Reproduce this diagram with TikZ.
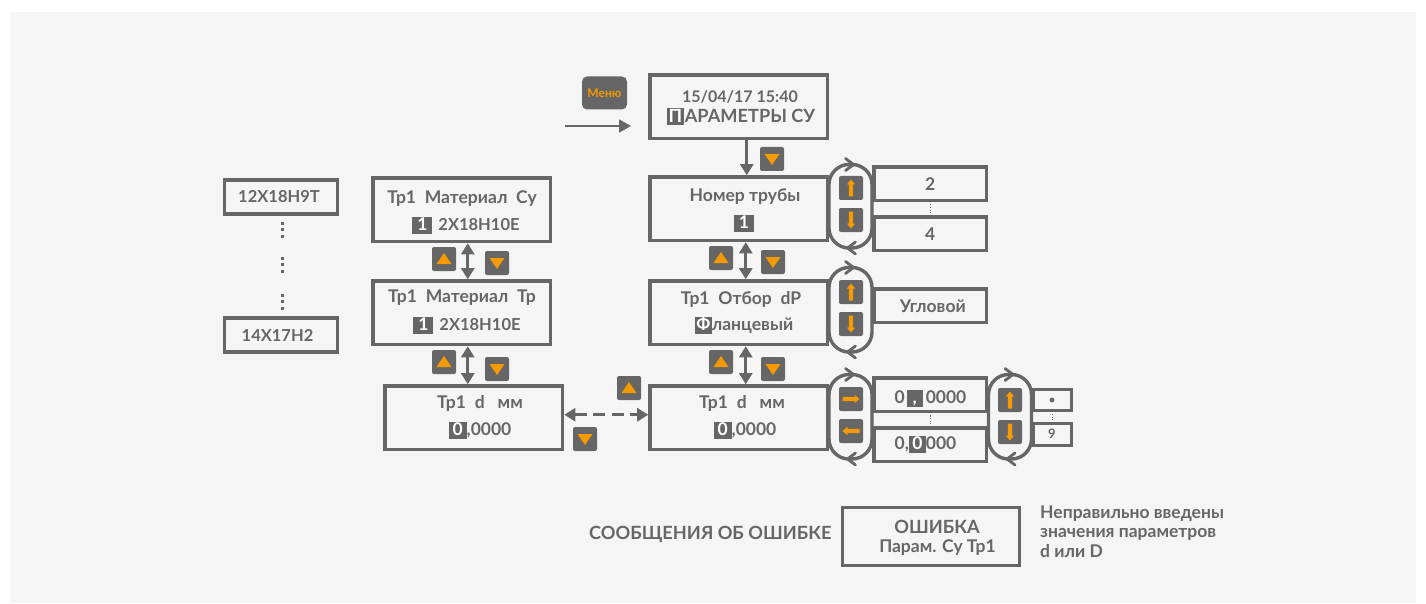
\documentclass[tikz,border=0pt]{standalone}
\usepackage{fontspec}
\setmainfont{Lato}[BoldFont={Lato Bold}]
\usetikzlibrary{arrows.meta,calc}
\definecolor{ink}{HTML}{666666}
\definecolor{paper}{HTML}{F5F5F5}
\definecolor{amber}{HTML}{F59A00}
% inverted character: width, character
\newcommand{\hl}[2]{{\setlength{\fboxsep}{0pt}\colorbox{ink}{\makebox[#1]{\rule[-3pt]{0pt}{17pt}\textcolor{white}{#2}}}}}
\newcommand{\numf}{\fontsize{16.5}{20}\selectfont}
\newcommand{\capf}{\fontsize{18.2}{22}\selectfont}
\tikzset{
  x=1pt,y=-1pt,
  every node/.style={font=\bfseries\fontsize{17.5}{21}\selectfont,text=ink,inner sep=0pt,align=center},
  lcd/.style={draw=ink,line width=3.6pt,fill=none,minimum width=177.5pt,minimum height=63.5pt,anchor=north west,xshift=-1.8pt,yshift=1.8pt},
  valbox/.style={draw=ink,line width=3.6pt,minimum width=112.5pt,minimum height=33.5pt,anchor=north west,xshift=-1.8pt,yshift=1.8pt},
  keybtn/.style={fill=ink,rounded corners=2pt,minimum width=24pt,minimum height=24pt},
  capsule/.style={draw=ink,line width=3.4pt,rounded corners=20pt},
  link/.style={draw=ink,line width=2.6pt},
  solidhead/.style={-{Triangle[length=11pt,width=13pt]}},
  bothhead/.style={{Triangle[length=11pt,width=13pt]}-{Triangle[length=11pt,width=13pt]}},
  chev/.style={draw=ink,line width=2.8pt,line cap=round,line join=round},
  dotv/.style={ink,line width=3pt,dash pattern=on 3pt off 3.4pt},
  tinydot/.style={ink,line width=1pt,dash pattern=on 1.2pt off 1.4pt}
}
% key with triangle: name, x, y, 1 = up / -1 = down
\newcommand{\trikey}[4]{\node[keybtn] (#1) at (#2,#3) {};
  \fill[amber] ($(#1)+(-7.5,{5*#4})$) -- ($(#1)+(7.5,{5*#4})$) -- ($(#1)+(0,{-6*#4})$) -- cycle;}
% key with arrow, rotation (0 = right)
\newcommand{\arrkey}[4]{\node[keybtn] (#1) at (#2,#3) {};
  \begin{scope}[shift={(#1)},rotate=#4]
  \fill[amber] (-8.5,-2.1) -- (3.5,-2.1) -- (3.5,-4.2) -- (8.5,0) -- (3.5,4.2) -- (3.5,2.1) -- (-8.5,2.1) -- cycle;
  \end{scope}}
% capsule: name, x1, y1, x2, y2
\newcommand{\loopcap}[5]{\draw[capsule] (#2,#3) rectangle (#4,#5);
  \coordinate (#1t) at ({(#2+#4)/2},#3);\coordinate (#1b) at ({(#2+#4)/2},#5);
  \draw[chev] ($(#1t)+(-5,-6)$) -- ($(#1t)+(3,0)$) -- ($(#1t)+(-5,6)$);
  \draw[chev] ($(#1b)+(5,-6)$) -- ($(#1b)+(-3,0)$) -- ($(#1b)+(5,6)$);}
\begin{document}
\begin{tikzpicture}
\useasboundingbox (0,0) rectangle (1426,604);
\fill[white] (0,0) rectangle (1426,604);
\fill[paper] (10,12) rectangle (1416,603);

% LCD boxes, right column
\node[lcd] (top) at (650,75) {};
\node[font=\bfseries\fontsize{16}{20}\selectfont] (t1) at (740,96.5) {15/04/17 15:40};
\node[font=\bfseries\capf] (t2) at (741,117) {\hl{17pt}{П}\kern1pt АРАМЕТРЫ СУ};
\node[lcd] (nom) at (650,177) {};
\node (t3) at (745,196.5) {Номер трубы};
\node (t4) at (744,223) {\hl{20pt}{1}};
\node[lcd] (otb) at (650,281) {};
\node (t5) at (741,299.5) {Тр1\enspace Отбор\enspace dP};
\node (t6) at (744,325.5) {\hl{17pt}{Ф}ланцевый};
\node[lcd] (dr) at (650,386) {};
\node (t7) at (742,403.5) {Тр1\enspace d\enspace\ мм};
\node (t8) at (745,430) {\hl{18pt}{0},0000};

% LCD boxes, left column
\node[lcd] (mc) at (373,178) {};
\node (t9) at (462,198.5) {Тр1\enspace Материал\enspace Су};
\node (t10) at (466,225) {\hl{20pt}{1}\kern6pt\numf 2Х18Н10Е};
\node[lcd] (mt) at (373,281) {};
\node (t11) at (462,297.5) {Тр1\enspace Материал\enspace Тр};
\node (t12) at (467,325) {\hl{20pt}{1}\kern6pt\numf 2Х18Н10Е};
\node[lcd] (dl) at (385,386) {};
\node (t13) at (480,403.5) {Тр1\enspace d\enspace\ мм};
\node (t14) at (480,430) {\hl{18pt}{0},0000};

% connectors
\draw[link,solidhead] ([xshift=8pt]top.south) -- ([xshift=8pt]top.south |- nom.north);
\draw[link,bothhead] ([xshift=7pt]nom.south) -- ([xshift=7pt]nom.south |- otb.north);
\draw[link,bothhead] ([xshift=7pt]otb.south) -- ([xshift=7pt]otb.south |- dr.north);
\draw[link,bothhead] ([xshift=6pt]mc.south) -- ([xshift=6pt]mt.north);
\draw[link,bothhead] ([xshift=6pt]mt.south) -- ([xshift=6pt]mt.south |- dl.north);
\draw[link,bothhead,dash pattern=on 12pt off 6.5pt] ([yshift=3pt]dl.east) -- ([yshift=3pt]dr.west);
\coordinate (inarr) at (565,126);
\coordinate (inend) at (631,126);
\draw[draw=ink,line width=1.8pt,-{Triangle[length=12pt,width=13pt]}] (inarr) -- (inend);

% keys
\node[keybtn,minimum width=45pt,minimum height=33pt,rounded corners=5pt,text=amber,font=\bfseries\fontsize{12}{14}\selectfont] (menu) at (604.5,93) {Меню};
\trikey{k1}{772}{159}{-1}
\trikey{k2}{721}{258}{1}
\trikey{k3}{773}{262}{-1}
\trikey{k4}{721}{362}{1}
\trikey{k5}{773}{369}{-1}
\trikey{k6}{444}{259}{1}
\trikey{k7}{497}{263}{-1}
\trikey{k8}{444}{362}{1}
\trikey{k9}{497}{369}{-1}
\trikey{k10}{629}{388}{1}
\trikey{k11}{585}{439}{-1}

% loops
\loopcap{la}{829}{164.5}{872}{248}
\loopcap{lb}{829}{267.5}{872}{352}
\loopcap{lc}{829}{374.5}{872}{459}
\loopcap{ld}{988.5}{374.5}{1031.5}{459}
\arrkey{a1}{851}{188}{90}
\arrkey{a2}{851}{220}{-90}
\arrkey{a3}{851}{292}{90}
\arrkey{a4}{851}{324}{-90}
\arrkey{a5}{851}{399}{0}
\arrkey{a6}{851}{431}{180}
\arrkey{a7}{1010}{400}{90}
\arrkey{a8}{1010}{432}{-90}

% value boxes
\node[valbox] (v2) at (874,167) {\raisebox{-2pt}{2}};
\node[valbox] (v4) at (874,217) {\raisebox{-2pt}{4}};
\draw[tinydot] ([yshift=-2pt]v2.south) -- ([yshift=2pt]v4.north);
\node[valbox] (vu) at (874,289) {\hspace*{5pt}\raisebox{-2pt}{Угловой}};
\node[valbox] (v0a) at (874,378) {};
\node[valbox] (v0b) at (874,428) {};
\node (t15) at (930.5,398) {0\kern2pt\hl{16pt}{,}\kern3pt 0000};
\node (t16) at (925.5,444) {0,\hl{17pt}{0}000};
\draw[tinydot] ([yshift=-2pt]v0a.south) -- ([yshift=2pt]v0b.north);
\node[draw=ink,line width=3pt,minimum width=38pt,minimum height=21.5pt] (s1) at (1052,400) {};
\fill[ink] (s1) circle (2.4pt);
\node[draw=ink,line width=3pt,minimum width=38pt,minimum height=22pt,font=\bfseries\fontsize{13}{15}\selectfont] (s2) at (1052,434) {9};
\draw[tinydot] ([yshift=-2pt]s1.south) -- ([yshift=2pt]s2.north);

% material list
\node[draw=ink,line width=3.6pt,minimum width=113pt,minimum height=34.5pt,font=\bfseries\numf] (l1) at (281,197) {\raisebox{-2pt}{\kern-4pt 12Х18Н9Т}};
\node[draw=ink,line width=3.6pt,minimum width=113pt,minimum height=33.5pt,font=\bfseries\numf] (l2) at (281,335) {\kern-7pt 14Х17Н2};
\coordinate (d1a) at (282,222);\coordinate (d1b) at (282,238);
\coordinate (d2a) at (282,257);\coordinate (d2b) at (282,273);
\coordinate (d3a) at (282,294);\coordinate (d3b) at (282,310);
\draw[dotv] (d1a) -- (d1b);
\draw[dotv] (d2a) -- (d2b);
\draw[dotv] (d3a) -- (d3b);

% error message
\node[anchor=west,font=\bfseries\fontsize{18.2}{22}\selectfont] (emsg) at (589,534.5) {СООБЩЕНИЯ ОБ ОШИБКЕ};
\node[draw=ink,line width=3.6pt,minimum width=177pt,minimum height=58pt] (err) at (931,536.5) {};
\node[font=\bfseries\capf] (e1) at (937,527) {ОШИБКА};
\node (e2) at (937.5,547.5) {Парам. Су Тр1};
\node[anchor=north west,align=left,font=\bfseries\fontsize{17.5}{19.5}\selectfont] (etxt) at (1040,505.5) {Неправильно введены\\значения параметров\\d или D};
\end{tikzpicture}
\end{document}
